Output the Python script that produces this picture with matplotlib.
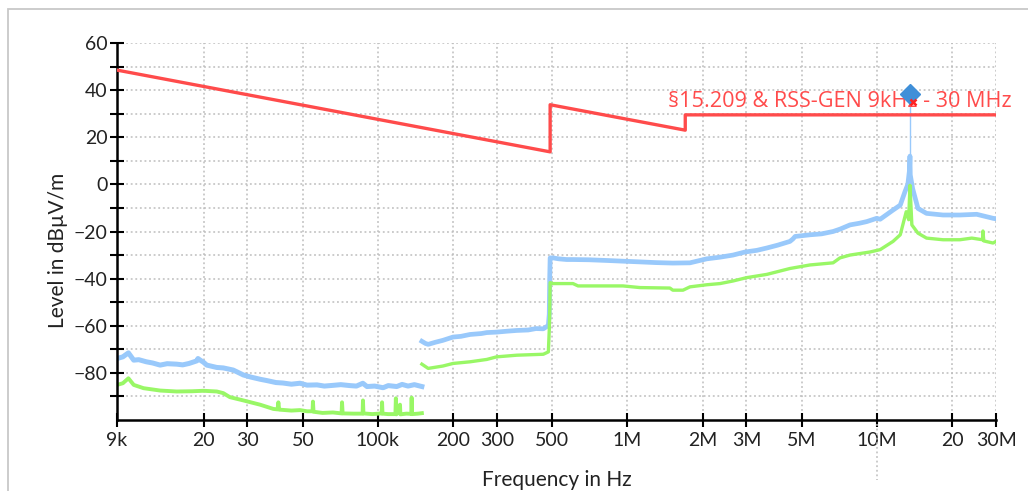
import matplotlib
matplotlib.use("Agg")
import matplotlib.pyplot as plt
from matplotlib.patches import Rectangle
from matplotlib.ticker import FixedLocator, FixedFormatter, NullLocator

# limit line (Hz, dBuV/m)
limit_f = [9e3, 490e3, 490e3, 1.705e6, 1.705e6, 30e6]
limit_db = [48.5, 13.8, 33.8, 23.0, 29.5, 29.5]
limit_name = "§15.209 & RSS-GEN 9kHz - 30 MHz"

# peak trace, 9 kHz - 150 kHz
pk1_f = [9.0e3, 9.5e3, 10.0e3, 10.5e3, 11.0e3, 11.8e3, 12.5e3, 13.4e3, 14.3e3, 15.6e3,
         16.5e3, 17.5e3, 18.8e3, 19.0e3, 19.4e3, 20.0e3, 20.6e3, 22.6e3, 24.0e3, 26.3e3,
         28.9e3, 31.0e3, 33.7e3, 36.0e3, 39.0e3, 41.6e3, 45.0e3, 48.7e3, 52.0e3, 57.0e3,
         61.0e3, 66.0e3, 71.0e3, 77.3e3, 82.0e3, 87.0e3, 90.4e3, 97.0e3, 104.9e3, 110e3,
         119e3, 125e3, 132e3, 140e3, 150e3]
pk1_db = [-73.9, -73.2, -71.5, -74.6, -74.4, -75.3, -75.8, -76.7, -76.1, -76.3,
          -76.6, -76.0, -74.9, -73.9, -74.6, -75.5, -76.7, -77.7, -77.9, -78.8,
          -80.9, -81.8, -82.7, -83.3, -84.1, -84.3, -84.8, -84.4, -85.2, -85.1,
          -85.6, -85.3, -85.0, -85.4, -85.6, -84.4, -85.8, -85.6, -86.3, -85.4,
          -85.8, -84.9, -85.6, -85.0, -85.8]

# average trace, 9 kHz - 150 kHz
av1_f = [9.0e3, 9.5e3, 10.0e3, 10.5e3, 11.5e3, 13.4e3, 15.6e3, 18.0e3, 20.0e3, 22.6e3,
         24.0e3, 25.5e3, 28.9e3, 33.7e3, 38.1e3, 39.6e3, 39.9e3, 40.2e3, 45.0e3, 48.7e3,
         52.0e3, 54.7e3, 54.9e3, 55.2e3, 60.0e3, 66.0e3, 71.5e3, 71.8e3, 72.2e3, 80.0e3,
         86.8e3, 87.1e3, 87.5e3, 95.0e3, 103.5e3, 103.9e3, 104.3e3, 110e3, 117.5e3, 118e3,
         118.5e3, 120e3, 122.6e3, 123e3, 130e3, 136.2e3, 136.5e3, 136.8e3, 145e3, 150e3]
av1_db = [-85.1, -84.4, -82.3, -85.1, -86.5, -87.5, -87.9, -87.8, -87.6, -87.9,
          -88.6, -90.3, -91.7, -93.5, -95.3, -95.5, -92.5, -95.6, -96.0, -95.8,
          -96.3, -96.3, -92.2, -96.5, -97.0, -96.8, -97.2, -92.5, -97.2, -97.3,
          -97.3, -91.7, -97.2, -97.5, -97.2, -92.5, -97.3, -97.5, -97.5, -90.8,
          -97.6, -97.0, -93.5, -97.6, -97.3, -97.4, -90.5, -97.5, -97.3, -97.1]

# peak trace, 150 kHz - 30 MHz
pk2_f = [150e3, 155e3, 159e3, 170e3, 182e3, 200e3, 215e3, 234e3, 260e3, 273e3,
         299e3, 330e3, 360e3, 400e3, 430e3, 460e3, 482e3, 486e3, 488e3, 490e3,
         503e3, 530e3, 571e3, 605e3, 700e3, 828e3, 960e3, 1.123e6, 1.30e6, 1.52e6,
         1.78e6, 2.08e6, 2.35e6, 2.65e6, 2.96e6, 3.3e6, 3.62e6, 4.0e6, 4.48e6, 4.6e6,
         4.7e6, 5.39e6, 6.0e6, 6.67e6, 7.11e6, 7.8e6, 8.5e6, 9.1e6, 9.98e6, 10.3e6,
         11.6e6, 12.4e6, 12.96e6, 13.3e6, 13.5e6, 13.56e6, 13.6e6, 13.9e6, 14.6e6, 15.8e6,
         18.4e6, 21.5e6, 25.1e6, 29.2e6, 30e6]
pk2_db = [-66.6, -67.5, -67.9, -67.0, -66.2, -64.8, -64.5, -63.7, -63.3, -62.9,
          -62.7, -62.3, -62.0, -61.8, -61.2, -61.3, -59.9, -55.0, -40.0, -31.2,
          -31.2, -31.6, -31.9, -31.9, -32.0, -32.3, -32.6, -32.9, -33.2, -33.4,
          -33.3, -31.6, -30.9, -30.0, -28.7, -28.0, -27.0, -25.8, -24.2, -23.2,
          -22.1, -21.4, -21.0, -20.0, -19.0, -17.2, -16.5, -15.8, -14.4, -14.8,
          -10.9, -8.8, -3.0, 0.0, 6.0, 12.0, 4.0, -1.8, -10.2, -12.3,
          -13.0, -13.0, -12.7, -14.4, -14.6]

# average trace, 150 kHz - 30 MHz
av2_f = [150e3, 159e3, 182e3, 200e3, 234e3, 273e3, 299e3, 360e3, 460e3, 482e3,
         486e3, 488e3, 490e3, 503e3, 605e3, 634e3, 960e3, 1.123e6, 1.48e6, 1.52e6,
         1.67e6, 1.78e6, 2.08e6, 2.35e6, 2.65e6, 3.0e6, 3.62e6, 4.48e6, 5.39e6, 6.67e6,
         7.11e6, 7.8e6, 9.38e6, 10.3e6, 11.6e6, 12.4e6, 13.1e6, 13.4e6, 13.56e6, 13.7e6,
         13.8e6, 14.6e6, 15.8e6, 18.4e6, 21.5e6, 24e6, 26.5e6, 26.6e6, 26.8e6, 29.2e6, 30e6]
av2_db = [-76.3, -78.1, -77.1, -76.0, -75.3, -74.3, -73.2, -72.5, -72.1, -71.1,
          -62.0, -55.0, -41.7, -42.1, -42.1, -43.1, -43.1, -43.8, -44.0, -44.9,
          -44.9, -43.5, -42.6, -42.1, -41.0, -39.6, -38.2, -35.7, -34.2, -33.3,
          -31.2, -30.0, -28.7, -27.7, -24.2, -21.4, -11.6, -15.0, -0.4, -10.0,
          -17.2, -20.7, -22.8, -23.5, -23.5, -22.8, -23.5, -19.8, -24.0, -24.9, -24.2]

# final measurement point
marker_f = 13.56e6
marker_db = 38.2

xticks = [9e3, 20e3, 30e3, 50e3, 100e3, 200e3, 300e3, 500e3, 1e6, 2e6, 3e6, 5e6, 10e6, 20e6, 30e6]
xlabels = ["9k", "20", "30", "50", "100k", "200", "300", "500", "1M", "2M", "3M", "5M", "10M", "20", "30M"]

red = "#ff4b4b"
blue = "#99c9fb"
green = "#99f766"

plt.rcParams["font.family"] = ["Lato", "DejaVu Sans"]
fig = plt.figure(figsize=(10.28, 4.91), dpi=100)
ax = fig.add_axes([117 / 1028, 1 - 420 / 491, 879 / 1028, 377 / 491])

# panel frame
fig.patches.append(Rectangle((8 / 1028, -0.1), 1.2, 1 - 9 / 491 + 0.1, transform=fig.transFigure,
                             fill=False, edgecolor="#c8c8c8", linewidth=1.3))

ax.plot(pk1_f, pk1_db, color=blue, lw=3.6)
ax.plot(pk2_f, pk2_db, color=blue, lw=3.4)
ax.plot(av1_f, av1_db, color=green, lw=2.8)
ax.plot(av2_f, av2_db, color=green, lw=2.4)
ax.plot(limit_f, limit_db, color=red, lw=2.4, zorder=4)
ax.plot([marker_f, marker_f], [10, marker_db - 4], color=blue, lw=1.0)
ax.plot(marker_f, marker_db, "D", color="#3f8fd8", ms=10.5, zorder=6)
ax.text(1.455e6, 30.6, limit_name, color=red, fontsize=15.6, family="Open Sans",
        ha="left", va="bottom", clip_on=False, zorder=5)
ax.plot(marker_f * 1.03, 35.0, "x", color="#ff2020", ms=5, mew=1.8, zorder=7)

ax.set_xscale("log")
ax.set_xlim(9e3, 30e6)
ax.set_ylim(-100, 60)
ax.xaxis.set_major_locator(FixedLocator(xticks))
ax.xaxis.set_major_formatter(FixedFormatter(xlabels))
ax.xaxis.set_minor_locator(NullLocator())
ax.set_yticks(range(-80, 61, 20))
ax.set_yticks(range(-90, 51, 10), minor=True)

ax.grid(True, which="both", axis="y", color="#bdbdbd", ls=(0, (1.2, 1.8)), lw=1.1)
ax.grid(True, which="major", axis="x", color="#bdbdbd", ls=(0, (1.2, 1.8)), lw=1.1)
# the 10M grid line runs on below the axis
ax.plot([10e6, 10e6], [-0.01, -0.16], transform=ax.get_xaxis_transform(), color="#bdbdbd",
        ls=(0, (1.2, 1.8)), lw=1.1, clip_on=False)

for s in ["top", "right"]:
    ax.spines[s].set_visible(False)
for s in ["left", "bottom"]:
    ax.spines[s].set_linewidth(1.8)
ax.tick_params(which="both", direction="inout", length=9.5, width=1.5, color="black",
               labelsize=14, labelcolor="#222222")
ax.tick_params(axis="x", pad=4)
ax.tick_params(axis="y", pad=2)

ax.set_xlabel("Frequency in Hz", fontsize=15, color="#222222")
ax.set_ylabel("Level in dBµV/m", fontsize=15, color="#222222")
ax.xaxis.set_label_coords(0.5, -0.132)
ax.yaxis.set_label_coords(-0.056, 0.45)

fig.savefig("out.png", dpi=100)
